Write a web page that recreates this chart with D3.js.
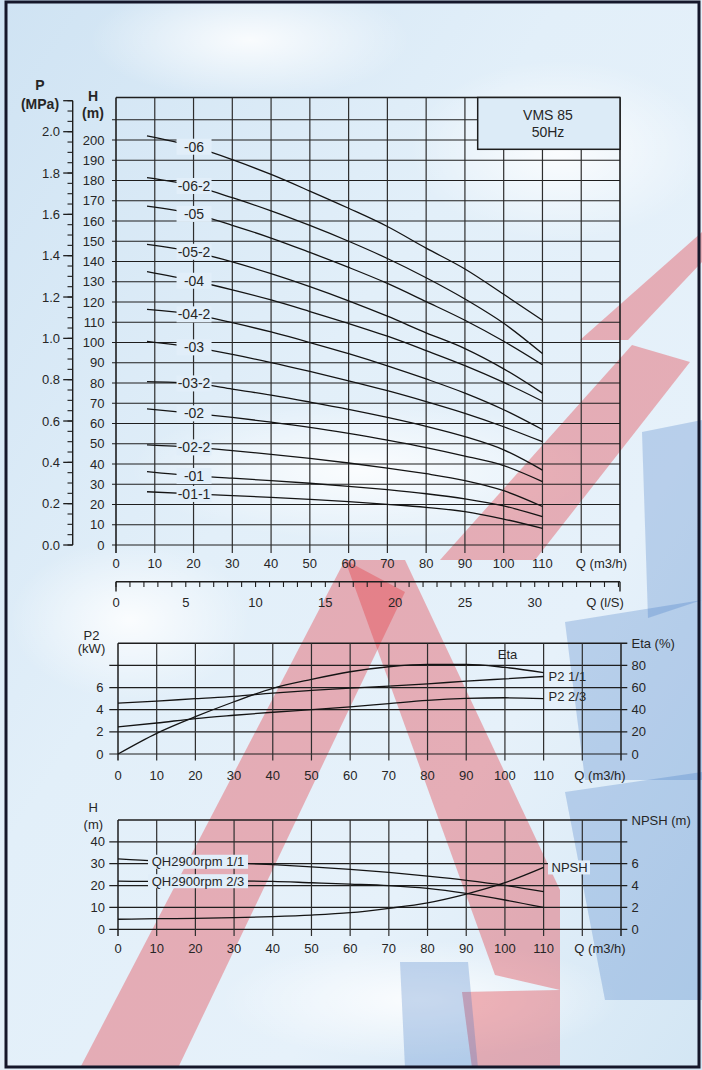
<!DOCTYPE html>
<html>
<head>
<meta charset="utf-8">
<script src="https://cdn.jsdelivr.net/npm/d3@7"></script>
<style>
html, body { margin: 0; padding: 0; background: #dcebf7; }
svg { display: block; font-family: "Liberation Sans", Arial, Helvetica, sans-serif; }
</style>
</head>
<body>
<svg id="chart" width="702" height="1070"></svg>
<script>
// ---------- Q-H curves, VMS 85 at 50 Hz ----------
const headFlow = [8, 20, 30, 40, 50, 60, 70, 80, 90, 100, 110];          // m3/h
const headModels = ["-06", "-06-2", "-05", "-05-2", "-04", "-04-2", "-03", "-03-2", "-02", "-02-2", "-01", "-01-1"];
const head06   = [202, 196.7, 190.3, 183, 174.8, 166.3, 157.3, 146.6, 136.3, 123.8, 111];
const head06_2 = [181.4, 177.3, 171.5, 165, 157.8, 150, 141.5, 132, 121.5, 109.5, 94.5];
const head05   = [167.4, 163.5, 157.9, 151.6, 144.5, 137.1, 129.2, 120.2, 111, 100.6, 89];
const head05_2 = [148.5, 144.8, 139.8, 134, 127.6, 120.6, 113, 104.8, 97, 87, 75];
const head04   = [135, 130.5, 126, 121, 115.3, 109.4, 103.1, 96, 88.6, 80.3, 71];
const head04_2 = [116.4, 113.9, 109.8, 105.2, 100, 94.5, 88.5, 82, 75, 66.8, 57];
const head03   = [100.6, 97.6, 94.1, 90.1, 85.7, 81.1, 76.2, 70.8, 65, 58.4, 51];
const head03_2 = [80.7, 79.8, 77, 74, 70.6, 67, 63, 58.6, 53.5, 47, 37];
const head02   = [67.2, 65, 63, 60.7, 58.1, 55.1, 51.8, 48.1, 43.9, 39.2, 31.3];
const head02_2 = [49.4, 48.2, 46.6, 44.8, 42.8, 40.5, 38, 35.2, 31.8, 26.8, 19];
const head01   = [36.2, 34.1, 33, 31.8, 30.5, 29, 27.3, 25.3, 22.8, 19.3, 14];
const head01_1 = [26.3, 25.2, 24.4, 23.5, 22.5, 21.4, 20.1, 18.6, 16.5, 12.8, 8.2];
const headSeries = [head06, head06_2, head05, head05_2, head04, head04_2, head03, head03_2, head02, head02_2, head01, head01_1];

// axis ticks of the head chart
const flowTicks = [0, 10, 20, 30, 40, 50, 60, 70, 80, 90, 100, 110];
const headTicks = [0, 10, 20, 30, 40, 50, 60, 70, 80, 90, 100, 110, 120, 130, 140, 150, 160, 170, 180, 190, 200];
const pressureTicks = [0.0, 0.2, 0.4, 0.6, 0.8, 1.0, 1.2, 1.4, 1.6, 1.8, 2.0];
const litreTicks = [0, 5, 10, 15, 20, 25, 30];

// ---------- power and efficiency ----------
const powerFlow = [0, 10, 20, 30, 40, 50, 60, 70, 80, 90, 100, 110];
const etaValues = [0, 18.7, 33.7, 47.2, 59.3, 67.4, 74.3, 78.8, 81, 81, 78.2, 73.5];
const p2Full    = [4.6, 4.78, 5.0, 5.2, 5.5, 5.74, 5.95, 6.13, 6.34, 6.58, 6.79, 7.0];
const p2TwoThirds = [2.45, 2.8, 3.2, 3.5, 3.77, 4.0, 4.25, 4.55, 4.84, 5.02, 5.08, 5.0];
const powerTicks = [0, 2, 4, 6];
const etaTicks = [0, 20, 40, 60, 80];

// ---------- QH at 2900 rpm and NPSH ----------
const npshFlow = [0, 10, 20, 30, 40, 50, 60, 70, 80, 90, 100, 110];
const qhFull      = [32.2, 31.3, 30.9, 30.3, 29.6, 28.6, 27.4, 26, 24.3, 22.4, 20.1, 17.2];
const qhTwoThirds = [22.0, 21.9, 22.0, 22.1, 21.9, 21.3, 20.7, 20.0, 18.7, 16.4, 13.4, 10.0];
const npshValues  = [0.92, 0.97, 1.0, 1.06, 1.16, 1.3, 1.52, 1.92, 2.42, 3.22, 4.26, 5.66];
const lowHeadTicks = [0, 10, 20, 30, 40];
const npshTicks = [0, 2, 4, 6];

// ---------- drawing ----------
const W = 702, H = 1070;
const INK = "#1e1e1e", TXT = "#262626", LABEL_BG = "#e1eef9";
const svg = d3.select("#chart");
const defs = svg.append("defs");

const bgGrad = defs.append("linearGradient").attr("id", "bgGrad")
  .attr("x1", 0).attr("y1", 0).attr("x2", 1).attr("y2", 1);
[["0%", "#cfe3f3"], ["40%", "#e2eff9"], ["70%", "#e6f1fa"], ["100%", "#d3e6f4"]]
  .forEach(([o, c]) => bgGrad.append("stop").attr("offset", o).attr("stop-color", c));
const cloud = defs.append("radialGradient").attr("id", "cloud");
cloud.append("stop").attr("offset", "0%").attr("stop-color", "#ffffff").attr("stop-opacity", 0.85);
cloud.append("stop").attr("offset", "100%").attr("stop-color", "#ffffff").attr("stop-opacity", 0);

svg.append("rect").attr("width", W).attr("height", H).attr("fill", "url(#bgGrad)");
[[360, 470, 230, 70], [250, 40, 160, 60], [560, 150, 150, 90], [130, 620, 120, 80], [420, 1000, 200, 60]]
  .forEach(([cx, cy, rx, ry]) => svg.append("ellipse").attr("cx", cx).attr("cy", cy)
    .attr("rx", rx).attr("ry", ry).attr("fill", "url(#cloud)"));

// brand watermark: slanted red and blue strokes behind the charts
const mark = svg.append("g").attr("class", "watermark");
const redStrokes = [
  [[80, 1068], [178, 1068], [405, 592], [345, 560]],
  [[345, 560], [405, 560], [560, 890], [560, 990], [495, 975]],
  [[440, 560], [535, 560], [690, 362], [632, 345]],
  [[580, 340], [628, 340], [702, 262], [702, 232]],
  [[462, 992], [560, 990], [560, 1068], [472, 1068]]
];
const blueStrokes = [
  [[565, 622], [702, 600], [702, 780], [585, 780]],
  [[642, 432], [702, 420], [702, 600], [648, 618]],
  [[565, 792], [702, 772], [702, 1000], [605, 1000]],
  [[400, 962], [468, 962], [478, 1068], [405, 1068]]
];
redStrokes.forEach(p => mark.append("polygon").attr("points", p.join(" "))
  .attr("fill", "#e2343c").attr("fill-opacity", 0.36));
blueStrokes.forEach(p => mark.append("polygon").attr("points", p.join(" "))
  .attr("fill", "#2f6cbf").attr("fill-opacity", 0.25));

function line(g, x1, y1, x2, y2, w = 1.2, c = INK) {
  return g.append("line").attr("x1", x1).attr("y1", y1).attr("x2", x2).attr("y2", y2)
    .attr("stroke", c).attr("stroke-width", w);
}
function text(g, x, y, s, anchor = "middle", size = 13, weight = "normal") {
  return g.append("text").attr("x", x).attr("y", y).attr("dy", "0.35em")
    .attr("text-anchor", anchor).attr("font-size", size).attr("font-weight", weight)
    .attr("fill", TXT).text(s);
}

// ===== Head chart =====
const main = svg.append("g");
const xM = d3.scaleLinear().domain([0, 130]).range([116, 620]);
const yM = d3.scaleLinear().domain([0, 221]).range([545, 97.5]);
const yP = d3.scaleLinear().domain([0, 2]).range([545, 131.7]);

d3.range(0, 220, 10).forEach(h => line(main, 112, yM(h), 620, yM(h), 1.2));
line(main, 116, yM(221), 620, yM(221), 1.6);
d3.range(10, 130, 10).forEach(q => line(main, xM(q), yM(221), xM(q), 553, 1.2, "#2e2e2e"));
line(main, xM(0), yM(221), xM(0), 553, 1.6);
line(main, xM(130), yM(221), xM(130), 553, 1.6);

headTicks.forEach(h => text(main, 104.5, yM(h), h, "end"));
flowTicks.forEach(q => text(main, xM(q), 563, q));
text(main, 601.5, 563, "Q (m3/h)");

// Q in l/s
line(main, xM(0), 581.7, xM(130), 581.7, 1.4);
d3.range(0, 37, 1).forEach(v => line(main, xM(v * 3.6), 581.7, xM(v * 3.6), 587, 1.1));
line(main, xM(0), 581.7, xM(0), 591.5, 1.4);
line(main, xM(130), 581.7, xM(130), 591.5, 1.4);
litreTicks.forEach(v => text(main, xM(v * 3.6), 602, v));
text(main, 605, 602, "Q (l/S)");

// pressure axis
line(main, 72.7, yP(2.15), 72.7, yP(0), 1.4);
d3.range(0, 44).map(i => i * 0.05).forEach(p => line(main, 67.5, yP(p), 72.7, yP(p), 1.1));
pressureTicks.concat([2.15]).forEach(p => line(main, 63.2, yP(p), 72.7, yP(p), 1.3));
pressureTicks.forEach(p => text(main, 60, yP(p), d3.format(".1f")(p), "end"));
text(main, 40, 85, "P", "middle", 14, "bold");
text(main, 40, 104, "(MPa)", "middle", 14, "bold");
text(main, 93, 96, "H", "middle", 14, "bold");
text(main, 93, 113.5, "(m)", "middle", 14, "bold");

// model box
main.append("rect").attr("x", 477.7).attr("y", yM(221)).attr("width", 620 - 477.7)
  .attr("height", 149.3 - yM(221)).attr("fill", "#dcebf7").attr("stroke", INK).attr("stroke-width", 1.5);
text(main, 548, 115, "VMS 85", "middle", 14);
text(main, 548, 132, "50Hz", "middle", 14);

const headLine = d3.line().x(d => xM(d[0])).y(d => yM(d[1])).curve(d3.curveMonotoneX);
headSeries.forEach((vals, i) => {
  main.append("path").attr("d", headLine(headFlow.map((q, j) => [q, vals[j]])))
    .attr("fill", "none").attr("stroke", "#141414").attr("stroke-width", 1.3);
});
headSeries.forEach((vals, i) => {
  const cx = xM(headFlow[1]) + 0.5, cy = yM(vals[1]);
  main.append("rect").attr("x", cx - 17.5).attr("y", cy - 8).attr("width", 35).attr("height", 16)
    .attr("fill", LABEL_BG);
  text(main, cx, cy, headModels[i], "middle", 14);
});

// ===== Power / efficiency chart =====
const mid = svg.append("g");
const xB = d3.scaleLinear().domain([0, 130]).range([118, 621]);
const yKW = d3.scaleLinear().domain([0, 10]).range([754, 643.3]);
const yEta = d3.scaleLinear().domain([0, 100]).range([754, 643.3]);

[0, 2, 4, 6, 8].forEach(v => line(mid, 109.3, yKW(v), 627.3, yKW(v), 1.2));
line(mid, xB(0), yKW(10), 627.3, yKW(10), 1.5);
d3.range(10, 130, 10).forEach(q => line(mid, xB(q), yKW(10), xB(q), 760.5, 1.2, "#2e2e2e"));
line(mid, xB(0), yKW(10), xB(0), 760.5, 1.5);
line(mid, xB(130), yKW(10), xB(130), 760.5, 1.5);
powerTicks.forEach(v => text(mid, 103.5, yKW(v), v, "end"));
etaTicks.forEach(v => text(mid, 631.5, yEta(v), v, "start"));
text(mid, 631.5, yKW(10), "Eta (%)", "start");
text(mid, 91.5, 635, "P2");
text(mid, 91.5, 648.5, "(kW)");
flowTicks.forEach(q => text(mid, xB(q), 775.5, q));
text(mid, 600, 775.5, "Q (m3/h)");

const curveStyle = p => p.attr("fill", "none").attr("stroke", "#141414").attr("stroke-width", 1.3);
curveStyle(mid.append("path").attr("d", d3.line().x(d => xB(d[0])).y(d => yEta(d[1]))
  .curve(d3.curveMonotoneX)(powerFlow.map((q, j) => [q, etaValues[j]]))));
const kwLine = d3.line().x(d => xB(d[0])).y(d => yKW(d[1])).curve(d3.curveMonotoneX);
curveStyle(mid.append("path").attr("d", kwLine(powerFlow.map((q, j) => [q, p2Full[j]]))));
curveStyle(mid.append("path").attr("d", kwLine(powerFlow.map((q, j) => [q, p2TwoThirds[j]]))));
text(mid, 507.5, 654, "Eta");
text(mid, xB(110) + 5, yKW(p2Full[11]), "P2 1/1", "start");
text(mid, xB(110) + 5, yKW(p2TwoThirds[11]) - 2, "P2 2/3", "start");

// ===== QH / NPSH chart =====
const low = svg.append("g");
const yH2 = d3.scaleLinear().domain([0, 50]).range([929.3, 820]);
const yN = d3.scaleLinear().domain([0, 10]).range([929.3, 820]);

lowHeadTicks.forEach(v => line(low, 109.3, yH2(v), 627.3, yH2(v), 1.2));
line(low, xB(0), yH2(50), 627.3, yH2(50), 1.5);
d3.range(10, 130, 10).forEach(q => line(low, xB(q), yH2(50), xB(q), 936, 1.2, "#2e2e2e"));
line(low, xB(0), yH2(50), xB(0), 936, 1.5);
line(low, xB(130), yH2(50), xB(130), 936, 1.5);
lowHeadTicks.forEach(v => text(low, 105, yH2(v), v, "end"));
npshTicks.forEach(v => text(low, 631.5, yN(v), v, "start"));
text(low, 631.5, yH2(50), "NPSH (m)", "start");
text(low, 93.3, 807.5, "H");
text(low, 93.3, 824, "(m)");
flowTicks.forEach(q => text(low, xB(q), 948.5, q));
text(low, 600, 948.5, "Q (m3/h)");

const h2Line = d3.line().x(d => xB(d[0])).y(d => yH2(d[1])).curve(d3.curveMonotoneX);
curveStyle(low.append("path").attr("d", h2Line(npshFlow.map((q, j) => [q, qhFull[j]]))));
curveStyle(low.append("path").attr("d", h2Line(npshFlow.map((q, j) => [q, qhTwoThirds[j]]))));
curveStyle(low.append("path").attr("d", d3.line().x(d => xB(d[0])).y(d => yN(d[1]))
  .curve(d3.curveMonotoneX)(npshFlow.map((q, j) => [q, npshValues[j]]))));

[["QH2900rpm 1/1", qhFull[2]], ["QH2900rpm 2/3", qhTwoThirds[2]]].forEach(([s, v]) => {
  const cy = yH2(v);
  low.append("rect").attr("x", 148).attr("y", cy - 7).attr("width", 100).attr("height", 14).attr("fill", LABEL_BG);
  text(low, 198, cy, s);
});
const ny = yN(npshValues[11]);
low.append("rect").attr("x", 548).attr("y", ny - 7).attr("width", 42).attr("height", 14).attr("fill", LABEL_BG);
text(low, 551.5, ny, "NPSH", "start");

// frame
svg.append("rect").attr("x", 6).attr("y", 2).attr("width", 693).attr("height", 1065)
  .attr("fill", "none").attr("stroke", "#15172a").attr("stroke-width", 3);
</script>
</body>
</html>
